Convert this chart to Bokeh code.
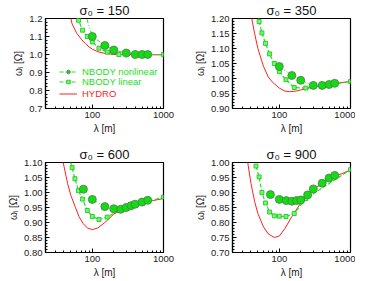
from bokeh.plotting import figure
from bokeh.layouts import column, row
from bokeh.models import FixedTicker, Range1d, Legend, LegendItem
from bokeh.embed import file_html
from bokeh.resources import INLINE

FONT = "Liberation Sans"

# ---------------- data ----------------
sigma0 = [150, 350, 600, 900]

# NBODY nonlinear
nl_lam_150 = [75, 100, 150, 200, 300, 400, 500, 600]
nl_w_150 = [1.26, 1.10, 1.05, 1.025, 1.008, 1.0, 1.0, 1.0]
nl_lam_350 = [100, 150, 200, 300, 400, 500, 600]
nl_w_350 = [1.04, 1.01, 0.994, 0.977, 0.977, 0.98, 0.984]
nl_lam_600 = [75, 100, 150, 200, 250, 300, 350, 400, 500, 600]
nl_w_600 = [1.011, 0.977, 0.953, 0.946, 0.944, 0.950, 0.956, 0.961, 0.968, 0.974]
nl_lam_900 = [75, 100, 125, 150, 175, 200, 250, 300, 400, 500, 600]
nl_w_900 = [0.893, 0.877, 0.873, 0.871, 0.873, 0.875, 0.892, 0.912, 0.931, 0.948, 0.957]

# NBODY linear
lin_lam = [47, 52, 57, 64, 73, 85, 100, 124, 162, 236, 1000]
lin_w_150 = [1.40, 1.32, 1.26, 1.19, 1.135, 1.10, 1.07, 1.035, 1.013, 1.0, 1.0]
lin_w_350 = [1.27, 1.19, 1.152, 1.117, 1.082, 1.05, 1.023, 0.996, 0.970, 0.968, 0.99]
lin_w_600 = [1.12, 1.083, 1.046, 1.006, 0.978, 0.94, 0.92, 0.91, 0.918, 0.94, 0.985]
lin_w_900 = [0.988, 0.952, 0.90, 0.865, 0.835, 0.822, 0.821, 0.82, 0.83, 0.88, 0.976]

# HYDRO
hy_lam_150 = [45, 50, 52, 60, 70, 80, 90, 100, 120, 150, 200, 1000]
hy_w_150 = [1.27, 1.20, 1.17, 1.12, 1.085, 1.06, 1.042, 1.03, 1.015, 1.006, 1.0, 0.998]
hy_lam_350 = [38, 41, 45, 50, 60, 70, 80, 100, 120, 140, 170, 200, 300, 500, 1000]
hy_w_350 = [1.25, 1.20, 1.15, 1.10, 1.04, 1.005, 0.988, 0.968, 0.958, 0.956, 0.958, 0.962, 0.972, 0.981, 0.99]
hy_lam_600 = [36, 39, 45, 50, 58, 65, 74, 85, 100, 120, 150, 200, 300, 500, 1000]
hy_w_600 = [1.14, 1.10, 1.03, 0.99, 0.95, 0.92, 0.897, 0.882, 0.876, 0.882, 0.90, 0.928, 0.95, 0.966, 0.98]
hy_lam_900 = [34, 36, 40, 45, 50, 60, 70, 85, 100, 120, 150, 200, 300, 500, 1000]
hy_w_900 = [1.04, 1.00, 0.93, 0.87, 0.83, 0.785, 0.762, 0.75, 0.755, 0.78, 0.82, 0.865, 0.91, 0.945, 0.975]

# axes
x_lo, x_hi = 22, 1000
x_major = [100, 1000]
x_minor = [30, 40, 50, 60, 70, 80, 90, 200, 300, 400, 500, 600, 700, 800, 900]
y_ranges = [(0.7, 1.2), (0.9, 1.2), (0.8, 1.1), (0.7, 1.0)]
y_steps = [0.1, 0.05, 0.05, 0.05]
y_minor_steps = [0.02, 0.01, 0.01, 0.01]

GREEN = "#22e022"
RED = "#ff2020"


def make_panel(idx, nl_lam, nl_w, lin_w, hy_lam, hy_w, left, bottom, legend=False):
    y0, y1 = y_ranges[idx]
    p = figure(
        output_backend="svg", toolbar_location=None,
        x_axis_type="log",
        x_range=Range1d(x_lo, x_hi), y_range=Range1d(y0, y1),
        frame_width=118, frame_height=90,
        min_border_left=45, min_border_right=24 if left else 5,
        min_border_top=13, min_border_bottom=36 if not bottom else 23,
        background_fill_color="white", border_fill_color="white",
        title=f"σ₀ = {sigma0[idx]}",
    )
    p.title.text_font = FONT
    p.title.text_font_size = "13px"
    p.title.text_font_style = "normal"
    p.title.text_color = "#111111"
    p.title.align = "center"
    p.title.standoff = 1
    p.title.offset = 0
    p.outline_line_color = "black"
    p.outline_line_width = 1.2
    p.grid.visible = False

    n = int(round((y1 - y0) / y_steps[idx]))
    yt = [round(y0 + i * y_steps[idx], 3) for i in range(n + 1)]
    nm = int(round((y1 - y0) / y_minor_steps[idx]))
    ym = [round(y0 + i * y_minor_steps[idx], 3) for i in range(nm + 1)]
    p.yaxis.ticker = FixedTicker(ticks=yt, minor_ticks=ym)
    p.xaxis.ticker = FixedTicker(ticks=x_major, minor_ticks=x_minor)
    if y_steps[idx] == 0.1:
        p.yaxis.major_label_overrides = {v: f"{v:.1f}" for v in yt}
    else:
        p.yaxis.major_label_overrides = {v: f"{v:.2f}" for v in yt}
    p.xaxis.major_label_overrides = {100: "100", 1000: "1000"}

    for ax in (p.xaxis[0], p.yaxis[0]):
        ax.major_tick_in = 4
        ax.major_tick_out = 0
        ax.minor_tick_in = 2
        ax.minor_tick_out = 0
        ax.axis_line_color = "black"
        ax.axis_line_width = 1.2
        ax.major_label_text_font = FONT
        ax.major_label_text_font_size = "9.5px"
        ax.major_label_text_color = "#222222"
        ax.axis_label_text_font = FONT
        ax.axis_label_text_font_size = "10px"
        ax.axis_label_text_font_style = "normal"
        ax.axis_label_text_color = "#222222"
        ax.major_label_standoff = 3
        ax.axis_label_standoff = 2
    p.xaxis.axis_label = "λ [m]"
    p.yaxis.axis_label = "ωᵢ [Ω]"

    r_hy = p.line(hy_lam, hy_w, line_color=RED, line_width=1.0)
    r_lin_l = p.line(lin_lam, lin_w, line_color=GREEN, line_width=1.2, line_dash="4 2")
    r_lin_s = p.scatter(lin_lam, lin_w, marker="square", size=4,
                        fill_color="#66ff66", line_color="#22bb22", line_width=0.8)
    r_nl_l = p.line(nl_lam, nl_w, line_color=GREEN, line_width=1.0, line_dash="4 2 1 2 1 2")
    r_nl_s = p.scatter(nl_lam, nl_w, marker="circle", size=8,
                       fill_color="#11dd11", line_color="#557755", line_width=0.8)

    if legend:
        specs = [
            ("NBODY nonlinear", [r_nl_l, r_nl_s], GREEN, 31),
            ("NBODY linear", [r_lin_l, r_lin_s], GREEN, 21),
            ("HYDRO", [r_hy], RED, 9),
        ]
        for label, rends, col, yy in specs:
            leg = Legend(
                items=[LegendItem(label=label, renderers=rends)],
                location=(14, yy), orientation="vertical",
                glyph_width=18, glyph_height=9, label_height=9, label_width=10,
                label_standoff=5, padding=0, margin=0, spacing=0,
                border_line_alpha=0, background_fill_alpha=0,
                label_text_font=FONT, label_text_font_size="9.5px",
                label_text_color=col,
            )
            p.add_layout(leg)
    return p


p1 = make_panel(0, nl_lam_150, nl_w_150, lin_w_150, hy_lam_150, hy_w_150, True, False, legend=True)
p2 = make_panel(1, nl_lam_350, nl_w_350, lin_w_350, hy_lam_350, hy_w_350, False, False)
p3 = make_panel(2, nl_lam_600, nl_w_600, lin_w_600, hy_lam_600, hy_w_600, True, True)
p4 = make_panel(3, nl_lam_900, nl_w_900, lin_w_900, hy_lam_900, hy_w_900, False, True)

layout = column(row(p1, p2), row(p3, p4))

open("out.html", "w").write(file_html(layout, INLINE))
